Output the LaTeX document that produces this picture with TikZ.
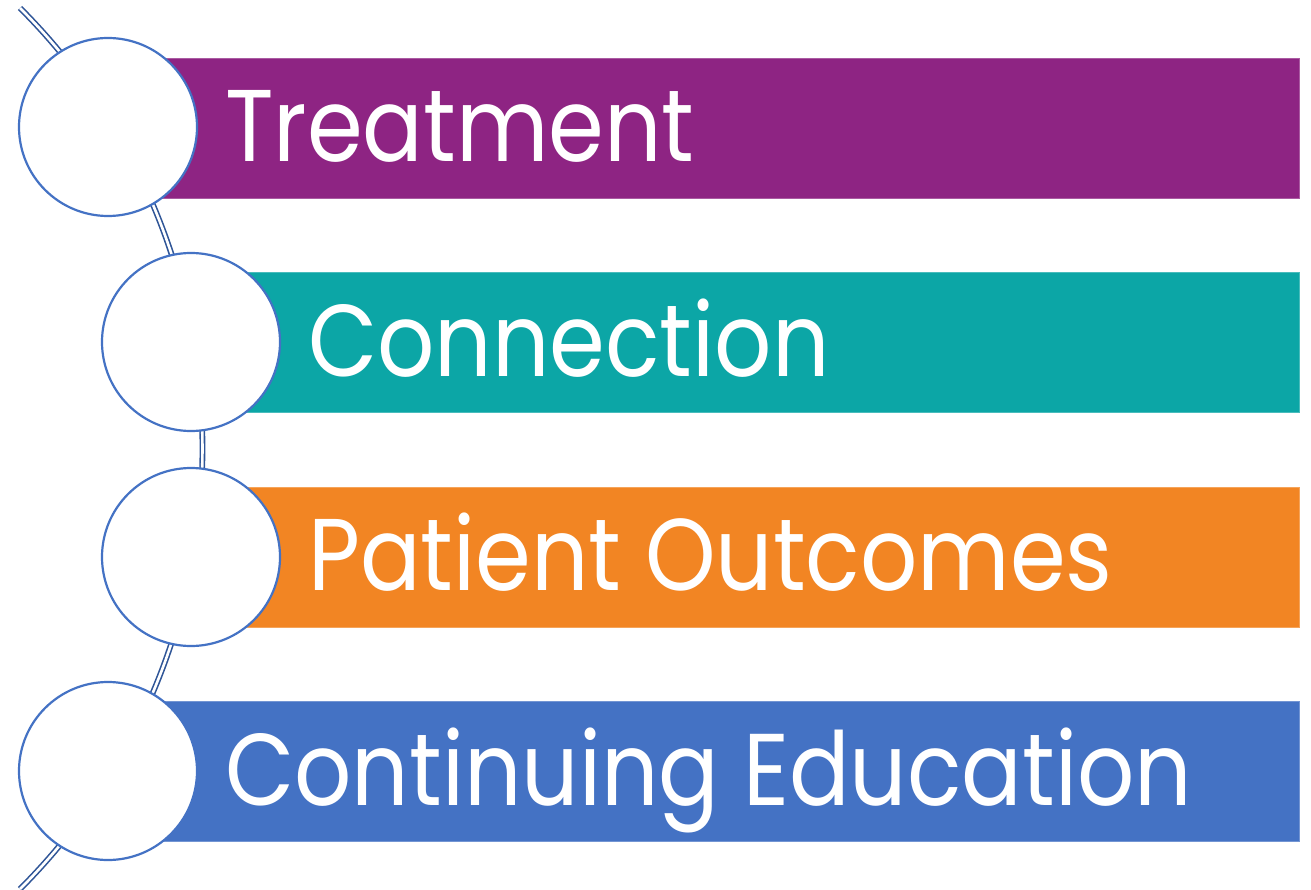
\documentclass[tikz,border=0pt]{standalone}
\usepackage{fontspec}
\setmainfont{Poppins}[FakeStretch = 0.88]
\definecolor{treatPurple}{HTML}{8E2483}
\definecolor{connTeal}{HTML}{0CA6A6}
\definecolor{outOrange}{HTML}{F28523}
\definecolor{eduBlue}{HTML}{4472C4}
\definecolor{ringBlue}{HTML}{4472C4}
\definecolor{spineBlue}{HTML}{2F5597}

\begin{document}
\begin{tikzpicture}[x = 1pt, y = -1pt]
	\tikzstyle{barStyle} = [shape = rectangle, anchor = west, minimum height = 140pt, inner sep = 0pt, line width = 0.8pt]
	\tikzstyle{ringStyle} = [shape = circle, minimum size = 178pt, inner sep = 0pt, draw = ringBlue, line width = 2.2pt, fill = white]
	\tikzstyle{wordStyle} = [anchor = base west, inner sep = 0pt, text = white, font = \fontsize{102}{110}\selectfont]
	\tikzstyle{spineStyle} = [draw = spineBlue, line width = 1.6pt, double = white, double distance = 2.6pt]
	\useasboundingbox (0,0) rectangle (1311,890);
	% spine behind the rings
	\coordinate (spineTop) at (20,8);
	\draw[spineStyle] (spineTop) arc[start angle = -45, end angle = 45, radius = 623];
	% bars
	\node[barStyle, minimum width = 1191pt, fill = treatPurple, draw = treatPurple!75!white] (bar1) at (108,128) {};
	\node[barStyle, minimum width = 1108pt, fill = connTeal, draw = connTeal!75!white] (bar2) at (191,342.5) {};
	\node[barStyle, minimum width = 1108pt, fill = outOrange, draw = outOrange!75!white] (bar3) at (191,557) {};
	\node[barStyle, minimum width = 1191pt, fill = eduBlue, draw = eduBlue!75!white] (bar4) at (108,771.5) {};
	% rings
	\node[ringStyle] (ring1) at (108,127) {};
	\node[ringStyle] (ring2) at (191,342) {};
	\node[ringStyle] (ring3) at (191,557) {};
	\node[ringStyle] (ring4) at (108,771) {};
	% words
	\node[wordStyle] (word1) at (225,162) {Treatment};
	\node[wordStyle] (word2) at (308,376) {Connection};
	\node[wordStyle] (word3) at (308,590) {Patient Outcomes};
	\node[wordStyle] (word4) at (225,805) {Continuing Education};
\end{tikzpicture}
\end{document}
